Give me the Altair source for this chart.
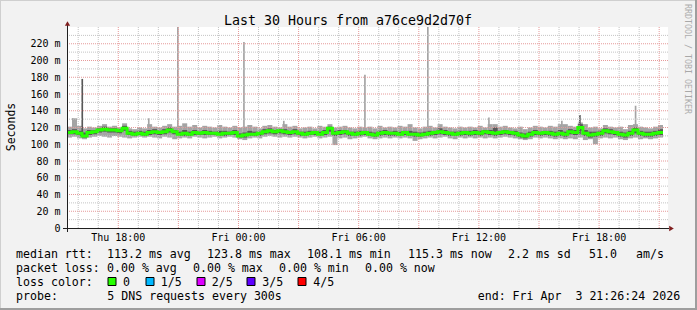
import altair as alt
import pandas as pd

# ---------------- data ----------------
START_H = 15 + 26 / 60 + 24 / 3600      # Thu 15:26:24 (hours since Thu 00:00)
SPAN_H = 30.0
SLOT_H = 0.25                           # 15 minute columns

median = [114, 115, 113, 110, 114, 115, 117, 118, 117, 117, 116, 119, 113, 112, 113, 112, 114, 115, 114, 115,
          117, 115, 112, 113, 112, 114, 113, 114, 113, 113, 112, 113, 113, 114, 110, 111, 112, 112, 113, 115,
          116, 115, 116, 115, 114, 115, 113, 112, 113, 114, 112, 114, 119, 113, 114, 115, 113, 112, 113, 114,
          112, 111, 113, 114, 113, 113, 112, 114, 112, 112, 111, 112, 113, 114, 115, 114, 113, 112, 113, 114,
          113, 114, 113, 115, 114, 113, 114, 115, 114, 113, 111, 110, 112, 114, 113, 114, 113, 112, 113, 112,
          115, 114, 120, 113, 111, 112, 113, 116, 115, 114, 112, 111, 113, 117, 113, 112, 112, 113, 114, None]

smoke_hi = [121, 131, 122, 119, 121, 120, 122, 124, 121, 122, 120, 125, 119, 118, 120, 119, 124, 121, 120, 122,
            124, 121, 122, 125, 121, 123, 120, 122, 121, 120, 123, 121, 120, 122, 120, 121, 123, 121, 119, 122,
            123, 121, 120, 124, 121, 122, 119, 120, 121, 119, 122, 121, 124, 120, 121, 122, 120, 119, 121, 120,
            121, 119, 122, 120, 121, 120, 122, 121, 124, 120, 119, 121, 122, 120, 124, 121, 120, 119, 121, 120,
            121, 120, 122, 120, 124, 124, 121, 122, 120, 119, 121, 118, 120, 122, 121, 120, 122, 121, 124, 124,
            122, 121, 126, 124, 120, 121, 119, 123, 121, 120, 121, 118, 123, 124, 121, 120, 119, 121, 123, None]

smoke_lo = [108, 109, 107, 106, 108, 109, 110, 109, 108, 110, 109, 108, 107, 108, 109, 108, 109, 108, 107, 109,
            108, 106, 107, 108, 107, 109, 108, 107, 108, 109, 107, 108, 109, 108, 106, 105, 107, 108, 107, 109,
            110, 109, 108, 109, 108, 109, 108, 107, 108, 109, 107, 108, 109, 99, 107, 108, 106, 107, 108, 109,
            107, 106, 107, 108, 107, 108, 107, 108, 107, 104, 106, 107, 108, 107, 108, 109, 107, 106, 108, 107,
            108, 107, 108, 107, 108, 107, 108, 109, 108, 107, 106, 105, 106, 108, 107, 108, 107, 106, 107, 106,
            107, 106, 108, 105, 106, 100, 107, 108, 107, 108, 106, 105, 107, 108, 106, 107, 106, 107, 108, None]

core_hi = [117, 118, 116, 114, 117, 117, 119, 121, 119, 119, 118, 122, 116, 115, 116, 115, 117, 118, 116, 118,
           120, 117, 115, 117, 115, 117, 115, 117, 116, 115, 116, 116, 115, 117, 113, 114, 116, 115, 115, 118,
           119, 117, 118, 118, 116, 118, 115, 115, 116, 116, 115, 117, 121, 116, 117, 117, 115, 115, 116, 116,
           115, 114, 116, 117, 115, 116, 115, 116, 116, 115, 114, 115, 116, 116, 119, 117, 115, 115, 116, 116,
           116, 117, 116, 117, 117, 120, 116, 117, 116, 116, 114, 113, 115, 117, 115, 116, 116, 115, 117, 115,
           118, 117, 124, 117, 115, 115, 116, 119, 118, 116, 115, 114, 116, 120, 116, 115, 115, 116, 118, None]

core_lo = [112, 112, 110, 108, 111, 112, 114, 115, 114, 114, 113, 116, 111, 110, 111, 110, 111, 112, 111, 112,
           114, 112, 110, 110, 110, 111, 111, 111, 111, 111, 110, 110, 111, 111, 108, 108, 110, 110, 110, 112,
           113, 112, 113, 112, 111, 112, 110, 110, 111, 111, 110, 111, 115, 110, 111, 112, 110, 110, 110, 111,
           110, 109, 110, 111, 110, 110, 110, 111, 110, 109, 109, 110, 110, 111, 112, 111, 110, 110, 110, 111,
           110, 111, 110, 112, 111, 110, 111, 112, 111, 110, 108, 107, 109, 111, 110, 111, 110, 109, 110, 109,
           112, 111, 116, 110, 108, 109, 110, 113, 112, 111, 109, 108, 110, 113, 110, 109, 109, 110, 111, None]

# single 5-minute spikes (hour, top in ms, dark core?)
spike_hours = [15.69, 16.16, 19.48, 20.93, 24.23, 26.22, 30.27, 33.41, 36.46, 40.10, 41.00, 43.78]
spike_tops = [131, 178, 131, 240, 222, 128, 183, 240, 132, 128, 135, 146]
spike_dark = [False, True, False, False, False, False, False, False, False, False, True, False]
spike_base = [112, 110, 112, 113, 112, 114, 113, 112, 113, 112, 112, 113]

x_tick_hours = [18, 24, 30, 36, 42]
x_tick_labels = ["Thu 18:00", "Fri 00:00", "Fri 06:00", "Fri 12:00", "Fri 18:00"]
y_tick_values = [0, 20, 40, 60, 80, 100, 120, 140, 160, 180, 200, 220]
y_tick_labels = ["0", "20 m", "40 m", "60 m", "80 m", "100 m", "120 m", "140 m", "160 m",
                 "180 m", "200 m", "220 m"]

title_text = "Last 30 Hours from a76ce9d2d70f"
y_title = "Seconds"
watermark = "RRDTOOL / TOBI OETIKER"
row1 = ["median rtt:", "113.2 ms avg", "123.8 ms max", "108.1 ms min", "115.3 ms now", "2.2 ms sd", "51.0", "am/s"]
row2 = ["packet loss:", "0.00 % avg", "0.00 % max", "0.00 % min", "0.00 % now"]
row3 = ["loss color:", "0", "1/5", "2/5", "3/5", "4/5"]
loss_colors = ["#26ff00", "#00b8ff", "#dd00ff", "#5e00ff", "#ff0000"]
row4 = ["probe:", "5 DNS requests every 300s", "end: Fri Apr\u00a0 3 21:26:24 2026"]

# ---------------- layout ----------------
W, H = 601, 201
OX, OY = 67, 27            # plot origin in the page
FONT = "DejaVu Sans Mono"

XS = alt.Scale(domain=[START_H, START_H + SPAN_H], nice=False, zero=False)
YS = alt.Scale(domain=[0, 240], nice=False)

rows = []
for i in range(len(median)):
    if median[i] is None:
        continue
    t = START_H + i * SLOT_H
    rows.append(dict(t=t, t2=t + SLOT_H, med=median[i], lo=smoke_lo[i], hi=smoke_hi[i],
                     clo=core_lo[i], chi=core_hi[i]))
smoke = pd.DataFrame(rows)
line_df = pd.concat([smoke[["t", "med"]],
                     pd.DataFrame([dict(t=smoke["t2"].iloc[-1], med=smoke["med"].iloc[-1])])],
                    ignore_index=True)

spikes = pd.DataFrame(dict(t=spike_hours, t2=[h + 5 / 60 for h in spike_hours],
                           top=spike_tops, base=spike_base, dark=spike_dark))

one = pd.DataFrame({"a": [0]})


def X(f):
    return alt.X(f, type="quantitative", scale=XS, axis=None)


def Y(f):
    return alt.Y(f, type="quantitative", scale=YS, axis=None)


layers = []

# smoke
layers.append(alt.Chart(smoke).mark_rect(color="#a4a4a4").encode(x=X("t"), x2="t2", y=Y("lo"), y2="hi"))
layers.append(alt.Chart(spikes[~spikes.dark]).mark_rect(color="#a4a4a4").encode(
    x=X("t"), x2="t2", y=Y("base"), y2="top"))
layers.append(alt.Chart(smoke).mark_rect(color="#585858").encode(x=X("t"), x2="t2", y=Y("clo"), y2="chi"))
layers.append(alt.Chart(spikes[spikes.dark]).mark_rect(color="#585858").encode(
    x=X("t"), x2="t2", y=Y("base"), y2="top"))

# grid
vminor = pd.DataFrame({"h": [h for h in range(16, 46) if h % 3 != 0]})
vmajor = pd.DataFrame({"h": [h for h in range(18, 46, 3)]})
hminor = pd.DataFrame({"v": list(range(10, 240, 20))})
hmajor = pd.DataFrame({"v": list(range(20, 240, 20))})
gmin = dict(color="#c4c4c4", strokeWidth=1, strokeDash=[1, 1])
gmaj = dict(color="#e69a9a", strokeWidth=1, strokeDash=[1, 1])
layers.append(alt.Chart(vminor).mark_rule(**gmin).encode(x=X("h")))
layers.append(alt.Chart(hminor).mark_rule(**gmin).encode(y=Y("v")))
layers.append(alt.Chart(vmajor).mark_rule(**gmaj).encode(x=X("h")))
layers.append(alt.Chart(hmajor).mark_rule(**gmaj).encode(y=Y("v")))

# median line
layers.append(alt.Chart(line_df).mark_line(color="#26ff00", strokeWidth=3, interpolate="step-after").encode(
    x=X("t"), y=Y("med")))

# axes
layers.append(alt.Chart(one).mark_rule(color="#1f1f1f", strokeWidth=1).encode(
    x=alt.value(0.5), y=alt.value(-2), y2=alt.value(H + 4)))
layers.append(alt.Chart(one).mark_rule(color="#1f1f1f", strokeWidth=1).encode(
    x=alt.value(-4), x2=alt.value(W + 1), y=alt.value(H + 0.5)))
layers.append(alt.Chart(one).mark_point(shape="triangle-up", filled=True, color="#801f1f", size=28, opacity=1).encode(
    x=alt.value(0.5), y=alt.value(-3.5)))
layers.append(alt.Chart(one).mark_point(shape="triangle-right", filled=True, color="#801f1f", size=28, opacity=1).encode(
    x=alt.value(W + 3.5), y=alt.value(H + 0.5)))

# tick labels
xt = pd.DataFrame(dict(h=x_tick_hours, label=x_tick_labels))
layers.append(alt.Chart(xt).mark_text(font=FONT, fontSize=10, color="#000", baseline="alphabetic").encode(
    x=X("h"), y=alt.value(241.3 - OY), text="label:N"))
yt = pd.DataFrame(dict(v=y_tick_values, label=y_tick_labels))
layers.append(alt.Chart(yt).mark_text(font=FONT, fontSize=10, color="#000", align="right", baseline="middle", dy=0.7).encode(
    y=Y("v"), x=alt.value(60.5 - OX), text="label:N"))


def txt(s, ax, ay, size=11.6, **kw):
    return alt.Chart(one).mark_text(font=FONT, fontSize=size, color="#000", align=kw.pop("align", "left"),
                                    baseline=kw.pop("baseline", "alphabetic"), **kw).encode(
        x=alt.value(ax - OX), y=alt.value(ay - OY), text=alt.value(s))


layers.append(txt(title_text, 348, 25, size=13.3, align="center"))
layers.append(txt(y_title, 15, 127, size=11.5, align="center", angle=270))
layers.append(alt.Chart(one).mark_text(font=FONT, fontSize=8.3, color="#000", opacity=0.3, align="center",
                                       baseline="alphabetic", angle=90).encode(
    x=alt.value(685 - OX), y=alt.value(59 - OY), text=alt.value(watermark)))

r1x = [16, 107, 207, 307, 408, 508, 589, 636]
for s, x in zip(row1, r1x):
    layers.append(txt(s, x, 258.3))
r2x = [16, 107, 193, 279, 365]
for s, x in zip(row2, r2x):
    layers.append(txt(s, x, 272))
r3x = [16, 123, 160.7, 211.7, 262.3, 313.3]
for s, x in zip(row3, r3x):
    layers.append(txt(s, x, 286))
sq_x = [112, 150, 201, 251, 302]
for c, x in zip(loss_colors, sq_x):
    layers.append(alt.Chart(one).mark_point(shape="square", filled=True, color=c, size=64, opacity=1,
                                            stroke="#000", strokeWidth=1).encode(
        x=alt.value(x - OX), y=alt.value(281.5 - OY)))
r4x = [16, 107.3, 477.7]
for s, x in zip(row4, r4x):
    layers.append(txt(s, x, 300))

# frame shading
def rule(x1, y1, x2, y2, color, w=1):
    return alt.Chart(one).mark_rule(color=color, strokeWidth=w).encode(
        x=alt.value(x1 - OX), x2=alt.value(x2 - OX), y=alt.value(y1 - OY), y2=alt.value(y2 - OY))


layers.append(rule(0, 0.5, 697, 0.5, "#cfcfcf"))
layers.append(rule(0.5, 0, 0.5, 310, "#cfcfcf"))
layers.append(rule(696, 0, 696, 310, "#9e9e9e", 2))
layers.append(rule(0, 309, 697, 309, "#9e9e9e", 2))

chart = alt.layer(*layers).properties(
    width=W, height=H, autosize="none",
    padding={"left": OX, "top": OY, "right": 697 - OX - W, "bottom": 310 - OY - H},
    background="#f2f2f2",
).configure_view(stroke=None, fill="white")

chart.save("out.html", embed_options={"renderer": "svg", "actions": False})
